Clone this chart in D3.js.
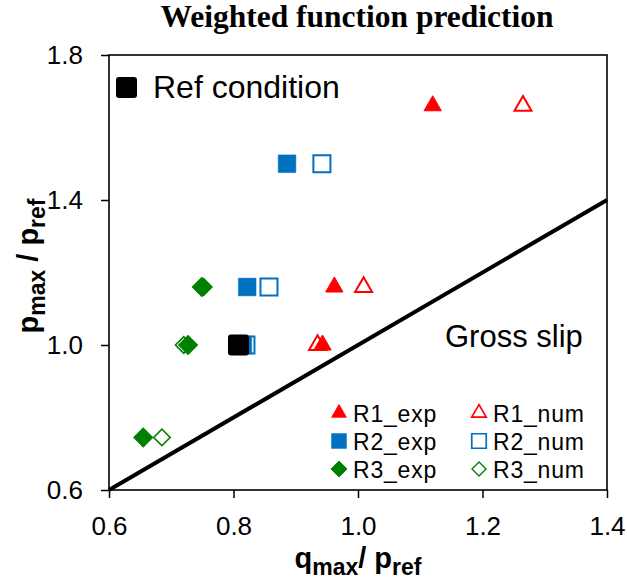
<!DOCTYPE html>
<html><head><meta charset="utf-8">
<script src="https://cdn.jsdelivr.net/npm/d3@7"></script>
<style>body{margin:0;background:#fff}svg{display:block}</style>
</head><body>
<svg id="c" width="627" height="583"></svg>
<script>
const xTicks = [0.6, 0.8, 1.0, 1.2, 1.4];
const yTicks = [0.6, 1.0, 1.4, 1.8];
const refX = [0.808], refY = [1.0];
const r1ExpX = [1.12, 0.962, 0.943], r1ExpY = [1.66, 1.16, 1.0];
const r1NumX = [1.265, 1.009, 0.935], r1NumY = [1.66, 1.16, 1.0];
const r2ExpX = [0.886, 0.822, 0.815], r2ExpY = [1.5, 1.16, 1.0];
const r2NumX = [0.942, 0.857, 0.82], r2NumY = [1.5, 1.16, 1.0];
const r3ExpX = [0.749, 0.727, 0.655], r3ExpY = [1.16, 1.0, 0.745];
const r3NumX = [0.752, 0.72, 0.685], r3NumY = [1.16, 1.0, 0.745];
const lineX = [0.6, 1.4], lineY = [0.6, 1.4];
const legendNames = ["R1_exp", "R1_num", "R2_exp", "R2_num", "R3_exp", "R3_num"];

const svg = d3.select("#c");
const L = 109, R = 607, T = 55, B = 490;
const x = d3.scaleLinear().domain([0.6, 1.4]).range([L, R]);
const y = d3.scaleLinear().domain([0.6, 1.8]).range([B, T]);
const RED = "#ff0000", BLUE = "#0070c0", GREEN = "#008000";

// title
svg.append("text").attr("x", 357).attr("y", 27).attr("text-anchor", "middle")
  .style("font-family", "'Liberation Serif','Times New Roman',serif").style("font-weight", "bold")
  .style("font-size", "31.5px").text("Weighted function prediction");

// axes
const fontAx = "'Liberation Sans',Arial,sans-serif";
const xa = svg.append("g").attr("transform", `translate(0,${B})`)
  .call(d3.axisBottom(x).tickValues(xTicks).tickFormat(d3.format(".1f")).tickSize(8).tickPadding(19));
const ya = svg.append("g").attr("transform", `translate(${L},0)`)
  .call(d3.axisLeft(y).tickValues(yTicks).tickFormat(d3.format(".1f")).tickSize(8).tickPadding(18));
[xa, ya].forEach(a => {
  a.select(".domain").remove();
  a.selectAll("line").attr("stroke", "#000").attr("stroke-width", 1.5);
  a.selectAll("text").style("font-family", fontAx).style("font-size", "26px").attr("fill", "#000");
});
svg.append("rect").attr("x", L).attr("y", T).attr("width", R - L).attr("height", B - T)
  .attr("fill", "none").attr("stroke", "#000").attr("stroke-width", 1.6);

// diagonal line
svg.append("path").datum(lineX.map((v, i) => [v, lineY[i]]))
  .attr("d", d3.line().x(d => x(d[0])).y(d => y(d[1])))
  .attr("stroke", "#000").attr("stroke-width", 4).attr("fill", "none");

// marker shapes
const tri = d3.symbol().type(d3.symbolTriangle).size(130);
const triO = d3.symbol().type(d3.symbolTriangle).size(125);
const sq = d3.symbol().type(d3.symbolSquare).size(313);
const sqO = d3.symbol().type(d3.symbolSquare).size(290);
const dia = d3.symbol().type(d3.symbolSquare).size(180);
const diaO = d3.symbol().type(d3.symbolSquare).size(136);
function series(xs, ys, sym, color, filled, sw, rot) {
  svg.append("g").selectAll("path").data(xs.map((v, i) => [v, ys[i]])).join("path")
    .attr("transform", d => `translate(${x(d[0])},${y(d[1])}) rotate(${rot || 0})`)
    .attr("d", sym)
    .attr("fill", filled ? color : "none")
    .attr("stroke", color).attr("stroke-width", sw);
}
series(r1NumX, r1NumY, triO, RED, false, 2);
series(r2NumX, r2NumY, sqO, BLUE, false, 2);
series(r3NumX, r3NumY, diaO, GREEN, false, 1.6, 45);
series(r1ExpX, r1ExpY, tri, RED, true, 1);
series(r2ExpX, r2ExpY, sq, BLUE, true, 0.5);
series(r3ExpX, r3ExpY, dia, GREEN, true, 1, 45);
// ref
svg.append("g").selectAll("rect").data(refX.map((v, i) => [v, refY[i]])).join("rect")
  .attr("x", d => x(d[0]) - 10.5).attr("y", d => y(d[1]) - 10.5)
  .attr("width", 21).attr("height", 21).attr("rx", 3).attr("fill", "#000");

// Ref condition legend
svg.append("rect").attr("x", 116).attr("y", 77).attr("width", 21).attr("height", 21).attr("rx", 3).attr("fill", "#000");
svg.append("text").attr("x", 153).attr("y", 98).style("font-family", fontAx).style("font-size", "32px").text("Ref condition");

// Gross slip
svg.append("text").attr("x", 445).attr("y", 347).style("font-family", fontAx).style("font-size", "31px").text("Gross slip");

// series legend
const legSyms = [[tri, RED, true, 1, 0], [triO, RED, false, 2, 0], [sq, BLUE, true, 0.5, 0], [sqO, BLUE, false, 2, 0], [dia, GREEN, true, 1, 45], [diaO, GREEN, false, 1.6, 45]];
legendNames.forEach((n, i) => {
  const col = i % 2, row = Math.floor(i / 2);
  const mx = col ? 479 : 339, my = 413 + row * 28;
  const s = legSyms[i];
  svg.append("path").attr("transform", `translate(${mx},${my}) scale(0.85) rotate(${s[4]})`).attr("d", s[0])
    .attr("fill", s[2] ? s[1] : "none").attr("stroke", s[1]).attr("stroke-width", s[3]);
  svg.append("text").attr("x", mx + 14).attr("y", my + 9).style("font-family", fontAx)
    .style("font-size", "23px").style("letter-spacing", "0.8px").text(n);
});

// axis titles
const xt = svg.append("text").attr("x", 358).attr("y", 568).attr("text-anchor", "middle")
  .style("font-family", fontAx).style("font-weight", "bold").style("font-size", "29px");
xt.append("tspan").text("q");
xt.append("tspan").style("font-size", "23px").attr("dy", 7).text("max");
xt.append("tspan").attr("dy", -7).text("/ p");
xt.append("tspan").style("font-size", "23px").attr("dy", 7).text("ref");

const yt = svg.append("text").attr("transform", "translate(38,266) rotate(-90)").attr("text-anchor", "middle")
  .style("font-family", fontAx).style("font-weight", "bold").style("font-size", "29px");
yt.append("tspan").text("p");
yt.append("tspan").style("font-size", "23px").attr("dy", 7).text("max");
yt.append("tspan").attr("dy", -7).text(" / p");
yt.append("tspan").style("font-size", "23px").attr("dy", 7).text("ref");
</script>
</body></html>
